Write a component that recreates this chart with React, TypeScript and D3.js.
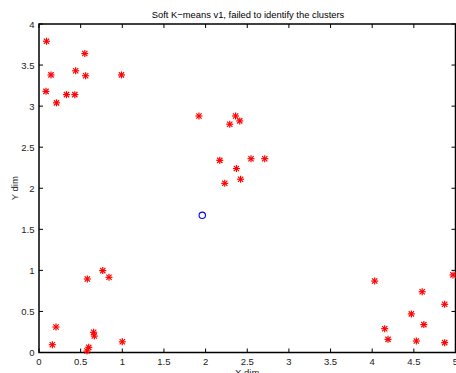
import { useEffect, useRef } from 'react'
import * as d3 from 'd3'

const pointX = [
  0.09, 0.144, 0.084, 0.21, 0.33, 0.43, 0.44, 0.55, 0.56, 0.99,
  1.92, 2.17, 2.23, 2.29, 2.36, 2.41, 2.545, 2.71, 2.37, 2.42,
  0.58, 0.765, 0.84, 0.204, 0.16, 0.656, 0.664, 0.597, 0.576, 1.0,
  4.03, 4.97, 4.6, 4.87, 4.47, 4.62, 4.15, 4.19, 4.53, 4.87,
]
const pointY = [
  3.79, 3.38, 3.18, 3.04, 3.14, 3.14, 3.43, 3.64, 3.37, 3.38,
  2.88, 2.34, 2.06, 2.78, 2.88, 2.82, 2.36, 2.36, 2.24, 2.11,
  0.895, 0.997, 0.916, 0.31, 0.095, 0.246, 0.2, 0.063, 0.018, 0.13,
  0.87, 0.945, 0.74, 0.587, 0.47, 0.34, 0.29, 0.16, 0.14, 0.12,
]
const centroidX = [1.96]
const centroidY = [1.67]

const xTicks = [0, 0.5, 1, 1.5, 2, 2.5, 3, 3.5, 4, 4.5, 5]
const yTicks = [0, 0.5, 1, 1.5, 2, 2.5, 3, 3.5, 4]

const title = 'Soft K\u2212means v1, failed to identify the clusters'

export default function App() {
  const svgRef = useRef<SVGSVGElement>(null)

  useEffect(() => {
    if (!svgRef.current) return
    document.body.style.margin = '0'
    const svg = d3.select(svgRef.current)
    svg.selectAll('*').remove()

    const width = 456
    const height = 373
    const left = 39
    const right = 455.5
    const top = 24
    const bottom = 352.5
    const font = 'Liberation Sans, Arial, Helvetica, sans-serif'

    svg.attr('width', width).attr('height', height)
    svg.append('rect').attr('width', width).attr('height', height).attr('fill', '#fff')

    const x = d3.scaleLinear().domain([0, 5]).range([left, right])
    const y = d3.scaleLinear().domain([0, 4]).range([bottom, top])

    // box
    svg.append('rect')
      .attr('x', left).attr('y', top)
      .attr('width', right - left).attr('height', bottom - top)
      .attr('fill', 'none').attr('stroke', '#000').attr('stroke-width', 1.5)

    const tickLen = 4
    const g = svg.append('g').attr('stroke', '#000').attr('stroke-width', 1)
    xTicks.forEach((t) => {
      g.append('line').attr('x1', x(t)).attr('x2', x(t)).attr('y1', bottom).attr('y2', bottom - tickLen)
      g.append('line').attr('x1', x(t)).attr('x2', x(t)).attr('y1', top).attr('y2', top + tickLen)
    })
    yTicks.forEach((t) => {
      g.append('line').attr('x1', left).attr('x2', left + tickLen).attr('y1', y(t)).attr('y2', y(t))
      g.append('line').attr('x1', right).attr('x2', right - tickLen).attr('y1', y(t)).attr('y2', y(t))
    })

    const fmt = d3.format('~g')
    svg.append('g').selectAll('text').data(xTicks).enter().append('text')
      .attr('x', (d) => x(d)).attr('y', bottom + 12)
      .attr('text-anchor', 'middle')
      .attr('font-family', font).attr('font-size', 9.5).attr('fill', '#222')
      .text((d) => fmt(d))
    svg.append('g').selectAll('text').data(yTicks).enter().append('text')
      .attr('x', left - 4.5).attr('y', (d) => y(d) + 3.5)
      .attr('text-anchor', 'end')
      .attr('font-family', font).attr('font-size', 9.5).attr('fill', '#222')
      .text((d) => fmt(d))

    // title and labels
    svg.append('text')
      .attr('x', 248).attr('y', 18)
      .attr('text-anchor', 'middle')
      .attr('font-family', font).attr('font-size', 9.4).attr('fill', '#000')
      .text(title)
    svg.append('text')
      .attr('x', (left + right) / 2).attr('y', 376)
      .attr('text-anchor', 'middle')
      .attr('font-family', font).attr('font-size', 9.5).attr('fill', '#222')
      .text('X dim')
    svg.append('text')
      .attr('transform', `translate(18,${(top + bottom) / 2}) rotate(-90)`)
      .attr('text-anchor', 'middle')
      .attr('font-family', font).attr('font-size', 9.5).attr('fill', '#222')
      .text('Y dim')

    // star markers
    const s = 3.5
    const d = s * 0.75
    const stars = svg.append('g').attr('stroke', '#ff0000').attr('stroke-width', 1.2)
    pointX.forEach((px, i) => {
      const cx = x(px)
      const cy = y(pointY[i])
      const m = stars.append('g').attr('transform', `translate(${cx},${cy})`)
      m.append('line').attr('x1', -s).attr('x2', s).attr('y1', 0).attr('y2', 0)
      m.append('line').attr('x1', 0).attr('x2', 0).attr('y1', -s).attr('y2', s)
      m.append('line').attr('x1', -d).attr('x2', d).attr('y1', -d).attr('y2', d)
      m.append('line').attr('x1', -d).attr('x2', d).attr('y1', d).attr('y2', -d)
    })

    // centroid
    svg.append('g').selectAll('circle').data(centroidX).enter().append('circle')
      .attr('cx', (c) => x(c)).attr('cy', (_, i) => y(centroidY[i]))
      .attr('r', 3.2)
      .attr('fill', 'none').attr('stroke', '#0000ff').attr('stroke-width', 1.1)
  }, [])

  return <svg ref={svgRef} style={{ display: 'block' }}></svg>
}
